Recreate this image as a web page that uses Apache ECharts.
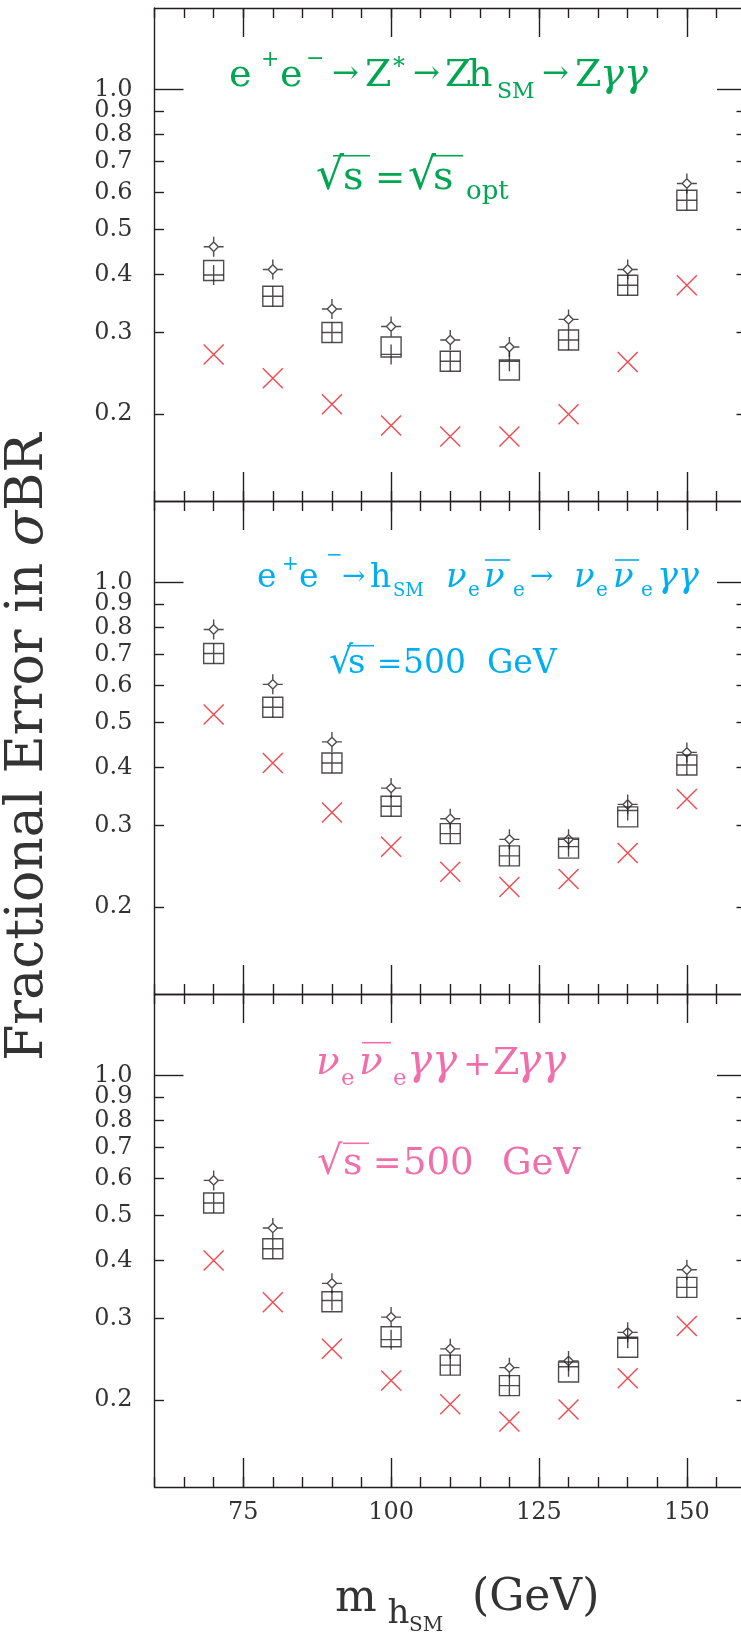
<!DOCTYPE html>
<html><head><meta charset="utf-8">
<script src="https://cdn.jsdelivr.net/npm/echarts@6/dist/echarts.min.js"></script>
<style>html,body{margin:0;padding:0;background:#fff}#c{width:741px;height:1636px}</style>
</head><body><div id="c"></div>
<script>
// ---------------- data ----------------
const mass = [70, 80, 90, 100, 110, 120, 130, 140, 150];

// panel 1: e+e- -> Z* -> Zh -> Z gamma gamma
const zhDiamond = [0.459, 0.410, 0.337, 0.309, 0.289, 0.279, 0.320, 0.410, 0.628];
const zhBox     = [0.408, 0.359, 0.300, 0.279, 0.260, 0.249, 0.289, 0.379, 0.578];
const zhPlus    = [0.399, 0.359, 0.300, 0.269, 0.260, 0.260, 0.289, 0.379, 0.578];
const zhCross   = [0.269, 0.239, 0.210, 0.189, 0.179, 0.179, 0.200, 0.259, 0.379];

// panel 2: e+e- -> h nu nubar -> nu nubar gamma gamma
const wwDiamond = [0.793, 0.604, 0.454, 0.361, 0.310, 0.280, 0.280, 0.333, 0.431];
const wwBox     = [0.704, 0.539, 0.409, 0.330, 0.288, 0.258, 0.268, 0.313, 0.405];
const wwPlus    = [0.704, 0.539, 0.409, 0.330, 0.288, 0.258, 0.270, 0.323, 0.405];
const wwCross   = [0.520, 0.409, 0.320, 0.270, 0.2385, 0.221, 0.230, 0.2615, 0.342];

// panel 3: combined
const cbDiamond = [0.595, 0.470, 0.357, 0.302, 0.258, 0.235, 0.243, 0.280, 0.382];
const cbBox     = [0.532, 0.424, 0.326, 0.274, 0.238, 0.215, 0.230, 0.260, 0.350];
const cbPlus    = [0.532, 0.424, 0.328, 0.270, 0.238, 0.215, 0.236, 0.272, 0.350];
const cbCross   = [0.400, 0.325, 0.258, 0.2205, 0.196, 0.180, 0.191, 0.223, 0.289];

const xMajorTicks = [75, 100, 125, 150];
const yTickLabelsA = [0.2, 0.4, 0.6, 0.8, 1.0];
const yTickLabelsB = [0.3, 0.5, 0.7, 0.9];
const yMajorTicks = [1.0];
const yMinorTicks = [0.2, 0.3, 0.4, 0.5, 0.6, 0.7, 0.8, 0.9];

const xTitle = ['m', 'h', 'SM', '(GeV)'];
const yTitle = ['Fractional Error in ', 'σ', 'BR'];

// ---------------- styles ----------------
const INK = '#231f20', GREEN = '#00a651', CYAN = '#00aeef', PINK = '#f06eaa', RED = '#ed1c24';
const FONT = '"DejaVu Serif", "Liberation Serif", serif';
const K = 0.346; // baseline offset below text middle (em)

const SYM_DIAMOND = 'path://M10,5.3L14.7,10L10,14.7L5.3,10ZM0,10H5.3M14.7,10H20M10,0V5.3M10,14.7V20';
const SYM_BOX = 'path://M0,0H20V20H0Z';
const SYM_PLUS = 'path://M0,10H20M10,0V20';
const SYM_X = 'path://M0,0L20,20M20,0L0,20';

const panels = [
  {diamond: zhDiamond, box: zhBox, plus: zhPlus, cross: zhCross},
  {diamond: wwDiamond, box: wwBox, plus: wwPlus, cross: wwCross},
  {diamond: cbDiamond, box: cbBox, plus: cbPlus, cross: cbCross}
];
const gridTops = [8, 501, 994];
const GRID_H = 493, GRID_L = 154.5, GRID_W = 591.5;

const lineStyle = {color: INK, width: 1.4};
const grid = [], xAxis = [], yAxis = [], series = [];
const Y_PER = 6, X_PER = 4;
const yLabelStyle = {show: true, margin: 22, color: '#333', fontFamily: FONT, fontSize: 24,
  lineHeight: 18, hideOverlap: false, formatter: v => (Math.round(v * 10) / 10).toFixed(1)};

gridTops.forEach((top, g) => {
  grid.push({left: GRID_L, top: top, width: GRID_W, height: GRID_H, outerBoundsMode: 'none', containLabel: false});
  ['bottom', 'top'].forEach(pos => {
    xAxis.push({gridIndex: g, type: 'value', min: 60, max: 160, interval: 5, position: pos,
      axisLine: {show: true, lineStyle}, axisTick: {show: true, inside: true, length: 10, lineStyle},
      axisLabel: {show: false}, splitLine: {show: false}});
    const showLab = (g === 2 && pos === 'bottom');
    xAxis.push({gridIndex: g, type: 'value', min: 60, max: 160, position: pos,
      axisLine: {show: false}, axisTick: {show: true, inside: true, length: 29, lineStyle, customValues: xMajorTicks},
      axisLabel: {show: showLab, customValues: xMajorTicks, margin: 14, color: '#333', fontFamily: FONT, fontSize: 24, lineHeight: 24},
      splitLine: {show: false}});
  });
  const logBase = {gridIndex: g, type: 'log', logBase: 10, min: 0.13, max: 1.5, splitLine: {show: false}, minorTick: {show: false}};
  ['left', 'right'].forEach(pos => {
    yAxis.push(Object.assign({}, logBase, {position: pos,
      axisLine: {show: true, lineStyle}, axisTick: {show: true, inside: true, length: 29, lineStyle, customValues: yMajorTicks},
      axisLabel: {show: false}}));
    yAxis.push(Object.assign({}, logBase, {position: pos,
      axisLine: {show: false}, axisTick: {show: true, inside: true, length: 9.5, lineStyle, customValues: yMinorTicks},
      axisLabel: {show: false}}));
  });
  // label-only axes (split in two so close labels are never dropped)
  [yTickLabelsA, yTickLabelsB].forEach(vals => {
    yAxis.push(Object.assign({}, logBase, {position: 'left',
      axisLine: {show: false}, axisTick: {show: false},
      axisLabel: Object.assign({}, yLabelStyle, {customValues: vals})}));
  });

  const p = panels[g];
  const mk = (name, vals, sym, color) => ({
    type: 'scatter', name, xAxisIndex: g * X_PER, yAxisIndex: g * Y_PER, silent: true,
    symbol: sym, symbolSize: 20, symbolKeepAspect: true,
    itemStyle: {color: 'none', borderColor: color, borderWidth: 1.4},
    data: mass.map((m, i) => [m, vals[i]])
  });
  series.push(mk('box' + g, p.box, SYM_BOX, INK));
  series.push(mk('plus' + g, p.plus, SYM_PLUS, INK));
  series.push(mk('diamond' + g, p.diamond, SYM_DIAMOND, INK));
  series.push(mk('cross' + g, p.cross, SYM_X, RED));
});

// ---------------- annotation text fragments (text, left x, baseline y, font px, italic) ----------------
const annot = [
  // green
  {c: GREEN, items: [
    ['e', 229, 89.5, 38], ['+', 261, 68, 22], ['e', 280, 89.5, 38], ['−', 306, 67, 22],
    ['→', 332, 86, 32], ['Z', 365, 89.5, 38], ['*', 393, 76, 24], ['→', 413, 86, 32],
    ['Z', 445, 89.5, 38], ['h', 468, 89.5, 38], ['SM', 497, 99.5, 22], ['→', 542, 86, 32],
    ['Z', 575, 89.5, 38], ['γγ', 600, 89.5, 40, 1],
    ['√', 316, 192.3, 44], ['s', 343, 192.3, 40], ['=', 375, 192.3, 36], ['√', 408, 192.3, 44],
    ['s', 433, 192.3, 40], ['opt', 466, 201.7, 26]
  ], lines: [[333, 370, 155.7], [431, 463, 155.7]]},
  // cyan
  {c: CYAN, items: [
    ['e', 257, 590, 33], ['+', 282, 572, 20], ['e', 299, 590, 33], ['−', 326, 563, 20],
    ['→', 342, 587, 28], ['h', 370, 590, 33], ['SM', 393, 598, 18],
    ['ν', 446, 590, 34, 1], ['e', 468, 598, 20], ['ν', 484, 590, 34, 1], ['e', 513, 598, 20],
    ['→', 530, 587, 28], ['ν', 574, 590, 34, 1], ['e', 596, 598, 20], ['ν', 613, 590, 34, 1],
    ['e', 641, 598, 20], ['γγ', 657, 590, 35, 1],
    ['√', 329, 676, 38], ['s', 348, 676, 34], ['=', 377, 676, 30], ['500', 403, 676, 33], ['GeV', 487, 676, 33]
  ], lines: [[485, 510, 560], [615, 639, 560], [347, 374, 645.7]]},
  // pink
  {c: PINK, items: [
    ['ν', 316, 1077.7, 39, 1], ['e', 341, 1086.7, 23], ['ν', 359, 1077.7, 39, 1], ['e', 393, 1086.7, 23],
    ['γγ', 407, 1077.7, 42, 1], ['+', 463, 1077.7, 34], ['Z', 493, 1077.7, 38], ['γγ', 516, 1077.7, 42, 1],
    ['√', 317, 1177.3, 40], ['s', 343, 1177.3, 38], ['=', 373, 1177.3, 34], ['500', 403, 1177.3, 37], ['GeV', 502, 1177.3, 37]
  ], lines: [[362, 391, 1042.7], [343, 369, 1143.3]]}
];

const graphic = [];
function frag(t, x, b, f, color, italic) {
  graphic.push({type: 'text', silent: true, z: 100, x: x, y: b - K * f,
    style: {text: t, font: (italic ? 'italic ' : '') + f + 'px ' + FONT, fill: color, align: 'left', verticalAlign: 'middle',
      textAlign: 'left', textVerticalAlign: 'middle', lineHeight: f}});
}
annot.forEach(a => {
  a.items.forEach(it => frag(it[0], it[1], it[2], it[3], a.c, it[4]));
  a.lines.forEach(l => graphic.push({type: 'line', silent: true, z: 100,
    shape: {x1: l[0], y1: l[2], x2: l[1], y2: l[2]}, style: {stroke: a.c, lineWidth: 1.6}}));
});
// x-axis title
frag(xTitle[0], 335, 1615, 44, '#333');
frag(xTitle[1], 387.5, 1626, 34, '#333');
frag(xTitle[2], 409, 1633, 20, '#333');
frag(xTitle[3], 472, 1614, 44, '#333');
// y-axis title (rotated)
const YT = 52;
graphic.push({type: 'text', silent: true, z: 100, x: 46.3 - K * YT, y: 747, rotation: Math.PI / 2,
  style: {text: '{a|' + yTitle[0] + '}{b|' + yTitle[1] + '}{a|' + yTitle[2] + '}',
    align: 'center', verticalAlign: 'middle', textAlign: 'center', textVerticalAlign: 'middle',
    rich: {a: {font: YT + 'px ' + FONT, fill: '#333', color: '#333', lineHeight: YT},
           b: {font: 'italic ' + YT + 'px ' + FONT, fill: '#333', color: '#333', lineHeight: YT}}}});

const chart = echarts.init(document.getElementById('c'), null, {renderer: 'canvas'});
chart.setOption({animation: false, backgroundColor: '#fff', grid, xAxis, yAxis, series, graphic});
</script></body></html>
